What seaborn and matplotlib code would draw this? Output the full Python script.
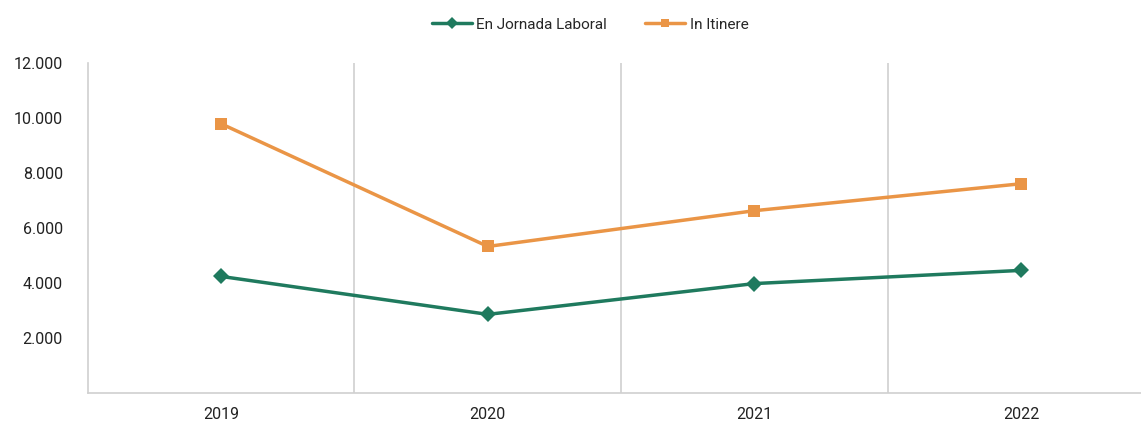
import pandas as pd
import seaborn as sns
import matplotlib.pyplot as plt
from matplotlib.ticker import FuncFormatter

years = ["2019", "2020", "2021", "2022"]
jornada = [4250, 2870, 3990, 4470]
itinere = [9800, 5340, 6640, 7620]
series_names = ["En Jornada Laboral", "In Itinere"]

df = pd.DataFrame({
    "year": years * 2,
    "value": jornada + itinere,
    "serie": [series_names[0]] * 4 + [series_names[1]] * 4,
})

sns.set_theme(style="white")
plt.rcParams["font.family"] = ["Roboto", "DejaVu Sans"]

fig, ax = plt.subplots(figsize=(11.41, 4.22), dpi=100)
fig.subplots_adjust(left=0.077, right=1.0, top=0.85, bottom=0.068)

palette = {series_names[0]: "#1f7a5e", series_names[1]: "#ea9546"}
markers = {series_names[0]: "D", series_names[1]: "s"}

sns.lineplot(data=df, x="year", y="value", hue="serie", style="serie",
             palette=palette, markers=markers, dashes=False,
             markersize=8, linewidth=2.5, markeredgewidth=0, ax=ax)

ax.set_xlim(-0.5, 3.45)
ax.set_ylim(0, 12000)
ax.set_yticks([2000, 4000, 6000, 8000, 10000, 12000])
ax.yaxis.set_major_formatter(FuncFormatter(lambda v, p: f"{int(v):,}".replace(",", ".")))

for xv in [0.5, 1.5, 2.5]:
    ax.axvline(xv, color="#d0d0d0", linewidth=1.2, zorder=0)

for side in ["top", "right"]:
    ax.spines[side].set_visible(False)
for side in ["left", "bottom"]:
    ax.spines[side].set_color("#d0d0d0")
    ax.spines[side].set_linewidth(1.2)

ax.set_xlabel("")
ax.set_ylabel("")
ax.tick_params(axis="both", length=0, labelsize=11.5, colors="#222222")
ax.tick_params(axis="x", pad=10)
ax.tick_params(axis="y", pad=18)

leg = ax.legend(loc="upper center", bbox_to_anchor=(0.477, 1.18), ncol=2,
                frameon=False, fontsize=11, handlelength=2.6,
                columnspacing=2.5, handletextpad=0.3, markerscale=0.8)
leg.set_title(None)

fig.savefig("out.png", dpi=100)
